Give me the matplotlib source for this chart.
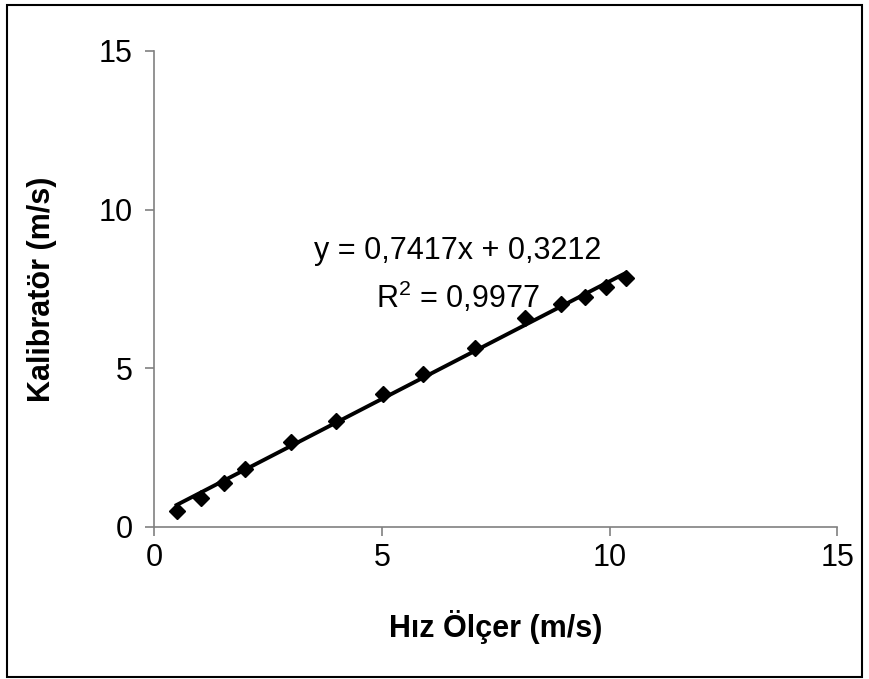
import numpy as np
import matplotlib
matplotlib.use("Agg")
import matplotlib.pyplot as plt
from matplotlib.patches import Rectangle

plt.rcParams['font.family'] = ['Liberation Sans', 'DejaVu Sans']

hiz_olcer = [0.49, 1.02, 1.52, 1.99, 3.00, 4.00, 5.02, 5.90, 7.04, 8.14, 8.93, 9.46, 9.93, 10.35]
kalibrator = [0.50, 0.92, 1.39, 1.82, 2.66, 3.34, 4.18, 4.82, 5.63, 6.57, 7.01, 7.25, 7.57, 7.83]

# linear trendline given on the chart
slope = 0.7417
intercept = 0.3212
r2 = 0.9977

ticks = [0, 5, 10, 15]

fig = plt.figure(figsize=(8.70, 6.79), dpi=100)
ax = fig.add_axes([0.1774, 0.2243, 0.9624 - 0.1774, 0.9249 - 0.2243])

x = np.array(hiz_olcer)
xfit = np.array([x.min(), x.max()])
ax.plot(xfit, slope * xfit + intercept, color='black', lw=2.8, zorder=2)
ax.plot(hiz_olcer, kalibrator, linestyle='none', marker='D', markersize=8.5,
        color='black', zorder=3)

ax.set_xlim(0, 15)
ax.set_ylim(0, 15)
ax.set_xticks(ticks)
ax.set_yticks(ticks)
ax.tick_params(axis='both', labelsize=22, direction='out', length=6.5,
               width=1.2, color='#808080')
ax.tick_params(axis='x', pad=5)
ax.tick_params(axis='y', pad=9)

for s in ['top', 'right']:
    ax.spines[s].set_visible(False)
for s in ['left', 'bottom']:
    ax.spines[s].set_color('#808080')
    ax.spines[s].set_linewidth(1.2)

ax.set_xlabel('Hız Ölçer (m/s)', fontsize=22, fontweight='bold', labelpad=27)
ax.set_ylabel('Kalibratör (m/s)', fontsize=22, fontweight='bold', labelpad=30)

eq = 'y = {:.4f}x + {:.4f}'.format(slope, intercept).replace('.', ',')
ax.text(6.67, 8.69, eq, fontsize=22, ha='center', va='center')
ax.text(6.67, 7.24, '$\\mathregular{R^2}$ = ' + '{:.4f}'.format(r2).replace('.', ','),
        fontsize=22, ha='center', va='center')

fig.patches.append(Rectangle((7 / 870, 1 - 677 / 679), 855 / 870, 672 / 679,
                             transform=fig.transFigure, fill=False,
                             edgecolor='black', lw=1.5))

fig.savefig('out.png', dpi=100)
